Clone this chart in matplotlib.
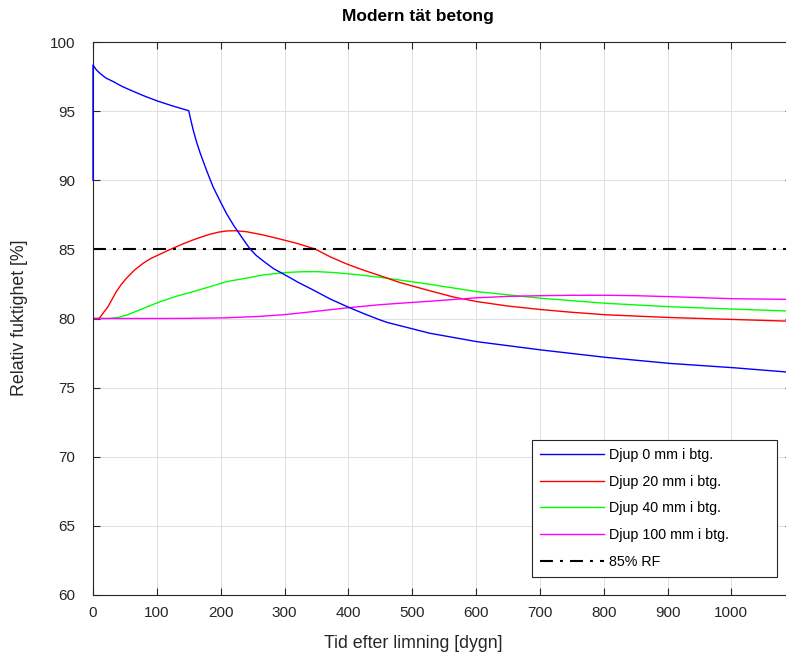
import matplotlib
matplotlib.use("Agg")
import matplotlib.pyplot as plt

plt.rcParams['font.family'] = ['Liberation Sans', 'DejaVu Sans']

# ---- data ----
blue_x = [0, 0, 5, 11, 20, 32, 45, 58, 80, 101, 125, 150, 153, 157, 162, 168, 178, 188, 199, 209,
          220, 233, 246, 256, 267, 283, 301, 322, 345, 372, 402, 427, 450, 462, 481, 528, 602,
          703, 803, 904, 1003, 1095]
blue_y = [90, 98.34, 98.0, 97.73, 97.4, 97.13, 96.8, 96.53, 96.1, 95.73, 95.37, 95.03, 94.4, 93.63,
          92.8, 91.95, 90.7, 89.53, 88.5, 87.6, 86.76, 85.88, 85.03, 84.55, 84.15, 83.6, 83.15,
          82.6, 82.06, 81.4, 80.78, 80.3, 79.89, 79.7, 79.48, 78.93, 78.32, 77.72, 77.19, 76.75,
          76.44, 76.1]

red_x = [0, 8, 10.4, 16, 23.5, 30, 36.5, 44, 52.2, 65, 78.3, 91, 104.4, 122.7, 140, 156.6, 170,
         182.7, 196, 208.8, 222, 240, 266.8, 290, 319, 347.7, 371.2, 397, 423.4, 449.5, 480.8,
         528, 565, 602, 650, 703, 750, 803, 904, 1003, 1095]
red_y = [80, 80, 80.05, 80.4, 80.85, 81.4, 81.94, 82.45, 82.9, 83.5, 83.99, 84.35, 84.64, 85.03,
         85.38, 85.68, 85.9, 86.09, 86.24, 86.33, 86.35, 86.28, 86.04, 85.78, 85.44, 85.03, 84.47,
         83.95, 83.5, 83.1, 82.6, 82.0, 81.55, 81.22, 80.9, 80.64, 80.45, 80.27, 80.07, 79.93, 79.8]

green_x = [0, 26, 40, 52.2, 65, 78.3, 91, 104.4, 130, 156.6, 183, 208.8, 240, 266.8, 300.7, 325,
           350.3, 376, 402.5, 428, 454.7, 480.8, 528, 602, 703, 803, 904, 1003, 1095]
green_y = [80, 80, 80.08, 80.24, 80.47, 80.72, 80.96, 81.2, 81.6, 81.94, 82.3, 82.66, 82.92,
           83.15, 83.32, 83.38, 83.39, 83.33, 83.22, 83.1, 82.95, 82.78, 82.47, 81.94, 81.46,
           81.1, 80.85, 80.68, 80.53]

mag_x = [0, 100, 150, 208.8, 260, 300, 345, 400, 450, 480, 528, 602, 650, 702.7, 750, 803, 850,
         903.6, 1003, 1095]
mag_y = [80, 80, 80.01, 80.05, 80.15, 80.28, 80.5, 80.78, 81.0, 81.1, 81.25, 81.5, 81.6, 81.65,
         81.68, 81.68, 81.65, 81.58, 81.43, 81.38]

rf_level = 85
labels = ['Djup 0 mm i btg.', 'Djup 20 mm i btg.', 'Djup 40 mm i btg.',
          'Djup 100 mm i btg.', '85% RF']
xticks = [0, 100, 200, 300, 400, 500, 600, 700, 800, 900, 1000]
yticks = [60, 65, 70, 75, 80, 85, 90, 95, 100]

# ---- figure ----
W, H = 786, 654
fig = plt.figure(figsize=(W / 100, H / 100), dpi=100)
ax_left, ax_right, ax_top, ax_bot = 93, 792, 42, 595
ax = fig.add_axes([ax_left / W, 1 - ax_bot / H, (ax_right - ax_left) / W, (ax_bot - ax_top) / H])

lw = 1.0
ax.plot(blue_x, blue_y, color=(0, 0, 1), lw=lw, label=labels[0], zorder=3, clip_on=False)
ax.plot(red_x, red_y, color=(1, 0, 0), lw=lw, label=labels[1], zorder=2.2)
ax.plot(green_x, green_y, color=(0, 1, 0), lw=lw, label=labels[2], zorder=2.1)
ax.plot(mag_x, mag_y, color=(1, 0, 1), lw=lw, label=labels[3], zorder=2.3)
ax.axhline(rf_level, color='black', lw=1.5, linestyle=(0, (6.2, 3.4, 1.4, 3.4)),
           label=labels[4], zorder=2.4)

ax.set_xlim(0, 1095)
ax.set_ylim(60, 100)
ax.set_xticks(xticks)
ax.set_yticks(yticks)
ax.grid(True, color='#dedede', lw=0.7)
ax.set_axisbelow(True)
spine_c = '#262626'
for s in ax.spines.values():
    s.set_color(spine_c)
    s.set_linewidth(0.8)
ax.tick_params(direction='in', length=5, width=0.8, color=spine_c, top=True, right=True,
               labelsize=11, labelcolor='#262626')
ax.tick_params(axis='y', pad=13)
ax.tick_params(axis='x', pad=8)

fig.text(413 / W, 1 - 643 / H, 'Tid efter limning [dygn]', ha='center', va='center',
         fontsize=12.8, color='#262626')
fig.text(20 / W, 1 - 318 / H, 'Relativ fuktighet [%]', ha='center', va='center',
         rotation=90, fontsize=12.8, color='#262626')
fig.text(418 / W, 1 - 17 / H, 'Modern tät betong', ha='center', va='center',
         fontsize=12.5, fontweight='bold', color='black')

aw = ax_right - ax_left
ah = ax_bot - ax_top
leg = ax.legend(loc='lower left',
                bbox_to_anchor=((531.7 - ax_left) / aw, (ax_bot - 576.7) / ah,
                                (776.7 - 531.7) / aw, 0.2),
                mode='expand', fontsize=10.3, handlelength=4.47, handletextpad=0.35,
                labelspacing=0.89, borderpad=0.55, borderaxespad=0, fancybox=False,
                framealpha=1, edgecolor=spine_c)
leg.get_frame().set_linewidth(0.8)
leg.set_zorder(5)

fig.savefig('out.png', dpi=100)
